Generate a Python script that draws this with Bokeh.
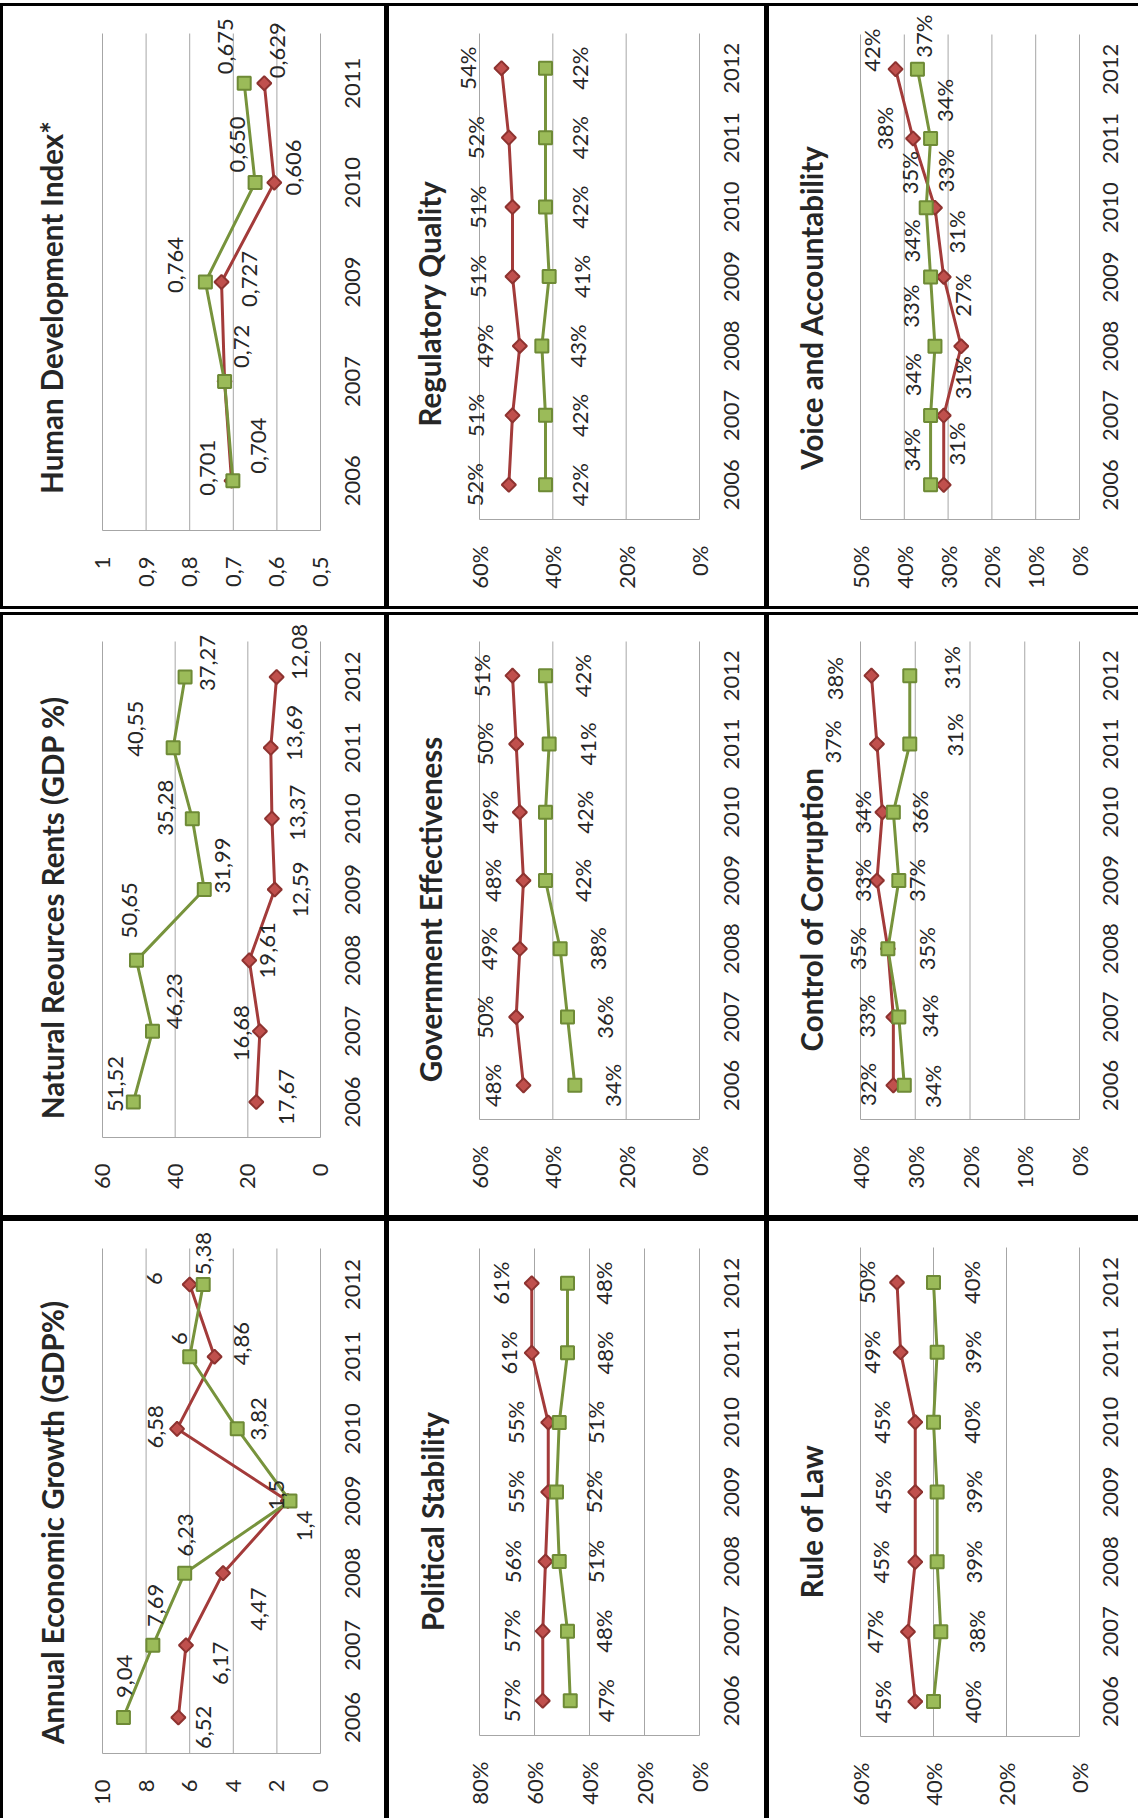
import math

from bokeh.core.properties import value
from bokeh.embed import file_html
from bokeh.layouts import column, row
from bokeh.models import (ColumnDataSource, FixedTicker, Label, LabelSet,
                          Range1d, Spacer)
from bokeh.plotting import figure
from bokeh.resources import INLINE

# ------------------------------------------------------------------ data
YEARS = ["2006", "2007", "2008", "2009", "2010", "2011", "2012"]

# Human Development Index (no 2008 observation)
hdi_years = ["2006", "2007", "2009", "2010", "2011"]
hdi_red = ["0,704", "0,72", "0,727", "0,606", "0,629"]
hdi_green = ["0,701", "0,72", "0,764", "0,650", "0,675"]
hdi_ticks = [0.5, 0.6, 0.7, 0.8, 0.9, 1.0]
hdi_tick_labels = ["0,5", "0,6", "0,7", "0,8", "0,9", "1"]

# Natural resources rents, % of GDP
nrr_red = ["17,67", "16,68", "19,61", "12,59", "13,37", "13,69", "12,08"]
nrr_green = ["51,52", "46,23", "50,65", "31,99", "35,28", "40,55", "37,27"]
nrr_ticks = [0, 20, 40, 60]
nrr_tick_labels = ["0", "20", "40", "60"]

# Annual economic growth, % of GDP
aeg_red = ["6,52", "6,17", "4,47", "1,5", "6,58", "4,86", "6"]
aeg_green = ["9,04", "7,69", "6,23", "1,4", "3,82", "6", "5,38"]
aeg_ticks = [0, 2, 4, 6, 8, 10]
aeg_tick_labels = ["0", "2", "4", "6", "8", "10"]

# Governance indicators, percentile rank
rq_red = [52, 51, 49, 51, 51, 52, 54]
rq_green = [42, 42, 43, 41, 42, 42, 42]
ge_red = [48, 50, 49, 48, 49, 50, 51]
ge_green = [34, 36, 38, 42, 42, 41, 42]
ps_red = [57, 57, 56, 55, 55, 61, 61]
ps_green = [47, 48, 51, 52, 51, 48, 48]
va_red = [31, 31, 27, 31, 33, 38, 42]
va_green = [34, 34, 33, 34, 35, 34, 37]
cc_red = [34, 34, 35, 37, 36, 37, 38]
cc_green = [32, 33, 35, 33, 34, 31, 31]
rl_red = [45, 47, 45, 45, 45, 49, 50]
rl_green = [40, 38, 39, 39, 40, 39, 40]

pct_ticks_60 = [0, 20, 40, 60]
pct_ticks_80 = [0, 20, 40, 60, 80]
pct_ticks_50 = [0, 10, 20, 30, 40, 50]
pct_ticks_40 = [0, 10, 20, 30, 40]

# ------------------------------------------------------------------ label placement (pixels: right, up)
hdi_red_off = ([27, 17, 28, 19, 13], [35, 35, 3, 15, 33])
hdi_green_off = ([-25, 0, -30, -18, -19], [13, 0, 17, 38, 37])
nrr_red_off = ([30, -18, 18, 26, 26, 24, 23], [5, -2, 10, 0, 6, 15, 25])
nrr_green_off = ([-18, 22, -7, 18, -27, -38, 22], [18, 30, 50, 24, 11, 19, 14])
aeg_red_off = ([25, 35, 35, -11, -22, 27, -35], [-10, -18, -36, 6, 2, 13, 6])
aeg_green_off = ([1, 3, 1, 15, 21, -10, 0], [41, 40, 38, -25, 10, 18, 31])
rq_red_off = ([-34, -37, -35, -35, -35, -33, -34], [0] * 7)
rq_green_off = ([34, 34, 36, 32, 34, 34, 34], [0] * 7)
ge_red_off = ([-31, -32, -31, -31, -30, -32, -31], [0] * 7)
ge_green_off = ([38, 37, 37, 37, 39, 38, 37], [0] * 7)
ps_red_off = ([-31, -31, -33, -33, -33, -23, -31], [0] * 7)
ps_green_off = ([35, 36, 36, 37, 36, 37, 36], [0] * 7)
va_red_off = ([13, 19, 1, 13, 11, -29, -24], [41, 38, 51, 45, 37, 10, 19])
va_green_off = ([-19, -18, -24, -19, -17, 14, 6], [35, 41, 40, 36, 35, 38, 33])
cc_red_off = ([39, 36, 39, 40, 37, -44, -37], [-1, 1, 0, 0, 0, 2, -3])
cc_green_off = ([-37, -32, -30, -36, -31, 45, 42], [1, 1, 0, 0, 0, 9, 8])
rl_red_off = ([-33, -33, -35, -33, -34, -29, -30], [0] * 7)
rl_green_off = ([39, 36, 36, 36, 38, 35, 38], [0] * 7)

# ------------------------------------------------------------------ styling
RED_LINE = "#A33B3A"
RED_FILL = "#C0504D"
RED_EDGE = "#8E3330"
GREEN_LINE = "#77933C"
GREEN_FILL = "#9BBB59"
GREEN_EDGE = "#6E8A36"
GRID = "#A6A6A6"
INK = "#262626"
FONT = "Lato"
LABEL_SIZE = "22px"
TITLE_SIZE = "29.5px"

# column widths, plot-area margins and year-label distance: (width, left, right, year_gap)
COL_L = (381, 99, 64, 32)
COL_M = (375, 90, 65, 32)
COL_R = (369, 91, 59, 31)


def num(s):
    return float(s.replace(",", "."))


def panel(title, years, series, ticks, tick_labels, col, height, top, bottom, title_pos):
    """One rotated chart: values run right-to-left, years bottom-to-top."""
    width, left, right, year_gap = col
    vmin, vmax = ticks[0], ticks[-1]
    n = len(years)
    fw = width - left - right          # plot-area width in px
    fh = height - top - bottom         # plot-area height in px
    kx = (vmax - vmin) / fw            # value units per px
    ky = n / fh                        # category units per px

    # the canvas is one big frame; the plot area sits inside it
    x_range = Range1d(vmax + left * kx, vmin - right * kx)
    y_range = Range1d(-0.5 - bottom * ky, n - 0.5 + top * ky)

    p = figure(width=width, height=height, x_range=x_range, y_range=y_range,
               y_axis_location=None, title=None, toolbar_location=None,
               output_backend="svg", min_border=0,
               min_border_left=0, min_border_right=0,
               min_border_top=0, min_border_bottom=0,
               background_fill_color="white", border_fill_color="white",
               outline_line_color=None)

    # value axis along the bottom edge of the plot area
    xa = p.xaxis[0]
    xa.fixed_location = -0.5
    xa.bounds = (vmin, vmax)
    xa.ticker = FixedTicker(ticks=ticks)
    xa.major_label_overrides = {t: lab for t, lab in zip(ticks, tick_labels)}
    xa.major_label_orientation = math.pi / 2
    xa.major_tick_line_color = None
    xa.minor_tick_line_color = None
    xa.major_tick_out = 0
    xa.major_tick_in = 0
    xa.axis_line_color = GRID
    xa.axis_line_width = 1
    xa.major_label_standoff = 26
    xa.major_label_text_font = FONT
    xa.major_label_text_font_size = LABEL_SIZE
    xa.major_label_text_color = INK

    p.xgrid.visible = False
    p.ygrid.visible = False

    # value gridlines, limited to the plot area
    p.segment(x0=ticks, y0=[-0.5] * len(ticks), x1=ticks, y1=[n - 0.5] * len(ticks),
              line_color=GRID, line_width=1)

    pos = list(range(n))

    # year labels along the right edge of the plot area
    ysrc = ColumnDataSource(dict(x=[vmin] * n, y=pos, text=years))
    p.add_layout(LabelSet(x="x", y="y", text="text", source=ysrc,
                          x_offset=year_gap, angle=math.pi / 2,
                          text_align="center", text_baseline="middle",
                          text_font=value(FONT), text_font_size=value(LABEL_SIZE),
                          text_color=INK))

    for vals, texts, offs, line_c, fill_c, edge_c, size, angle, hide in series:
        src = ColumnDataSource(dict(v=vals, y=pos))
        p.line("v", "y", source=src, line_color=line_c, line_width=3)
        p.scatter("v", "y", source=src, marker="square", size=size, angle=angle,
                  fill_color=fill_c, line_color=edge_c, line_width=2)
        keep = [i for i in range(n) if i not in hide]
        lsrc = ColumnDataSource(dict(
            v=[vals[i] for i in keep],
            y=[pos[i] for i in keep],
            text=[texts[i] for i in keep],
            dx=[offs[0][i] for i in keep],
            dy=[offs[1][i] for i in keep],
        ))
        p.add_layout(LabelSet(x="v", y="y", text="text", source=lsrc,
                              x_offset="dx", y_offset="dy", angle=math.pi / 2,
                              text_align="center", text_baseline="middle",
                              text_font=value(FONT), text_font_size=value(LABEL_SIZE),
                              text_color=INK))

    # chart title, centred on the panel to the left of the plot area
    tx, ty = title_pos
    p.add_layout(Label(x=vmax + (left - tx) * kx, y=(n - 0.5 + top * ky) - ty * ky,
                       text=title, angle=math.pi / 2,
                       text_align="center", text_baseline="middle",
                       text_font=FONT, text_font_style="bold",
                       text_font_size=TITLE_SIZE, text_color=INK))
    return p


def two(red_vals, red_texts, red_off, green_vals, green_texts, green_off, green_hide=()):
    return [
        (red_vals, red_texts, red_off, RED_LINE, RED_FILL, RED_EDGE, 10, math.pi / 4, ()),
        (green_vals, green_texts, green_off, GREEN_LINE, GREEN_FILL, GREEN_EDGE, 13, 0, green_hide),
    ]


def comma(vals):
    return [num(s) for s in vals], list(vals)


def pct(vals):
    return list(vals), [f"{v}%" for v in vals]


# ------------------------------------------------------------------ panels
hr_v, hr_t = comma(hdi_red)
hg_v, hg_t = comma(hdi_green)
p_hdi = panel("Human Development Index*", hdi_years,
              two(hr_v, hr_t, hdi_red_off, hg_v, hg_t, hdi_green_off, green_hide=(1,)),
              hdi_ticks, hdi_tick_labels, COL_L, 600, 27, 76, (48, 301))

nr_v, nr_t = comma(nrr_red)
ng_v, ng_t = comma(nrr_green)
p_nrr = panel("Natural Reources Rents (GDP %)", YEARS,
              two(nr_v, nr_t, nrr_red_off, ng_v, ng_t, nrr_green_off),
              nrr_ticks, nrr_tick_labels, COL_L, 600, 26, 78, (49, 292))

ar_v, ar_t = comma(aeg_red)
ag_v, ag_t = comma(aeg_green)
p_aeg = panel("Annual Economic Growth (GDP%)", YEARS,
              two(ar_v, ar_t, aeg_red_off, ag_v, ag_t, aeg_green_off),
              aeg_ticks, aeg_tick_labels, COL_L, 597, 27, 65, (49, 301))


def pct_panel(title, red, red_off, green, green_off, ticks, col, height, top, bottom, title_pos):
    rv, rt = pct(red)
    gv, gt = pct(green)
    return panel(title, YEARS, two(rv, rt, red_off, gv, gt, green_off),
                 ticks, [f"{t}%" for t in ticks], col, height, top, bottom, title_pos)


p_rq = pct_panel("Regulatory Quality", rq_red, rq_red_off, rq_green, rq_green_off,
                 pct_ticks_60, COL_M, 600, 27, 87, (40, 297))
p_ge = pct_panel("Government Effectiveness", ge_red, ge_red_off, ge_green, ge_green_off,
                 pct_ticks_60, COL_M, 600, 26, 96, (41, 294))
p_ps = pct_panel("Political Stability", ps_red, ps_red_off, ps_green, ps_green_off,
                 pct_ticks_80, COL_M, 597, 27, 83, (43, 300))
p_va = pct_panel("Voice and Accountability", va_red, va_red_off, va_green, va_green_off,
                 pct_ticks_50, COL_R, 600, 28, 87, (42, 301))
p_cc = pct_panel("Control of Corruption", cc_red, cc_red_off, cc_green, cc_green_off,
                 pct_ticks_40, COL_R, 600, 26, 96, (42, 294))
p_rl = pct_panel("Rule of Law", rl_red, rl_red_off, rl_green, rl_green_off,
                 pct_ticks_60, COL_R, 597, 26, 82, (42, 300))

# ------------------------------------------------------------------ framed page layout
TOTAL_W = 1138


def bar(w, h, color="black"):
    return Spacer(width=w, height=h, margin=0, styles={"background-color": color})


def panel_row(panels, h):
    a, b, c = panels
    return row(bar(3, h), a, bar(5, h), b, bar(5, h), c, spacing=0)


page = column(
    bar(TOTAL_W, 3, "white"),
    bar(TOTAL_W, 3),
    panel_row((p_hdi, p_rq, p_va), 600),
    bar(TOTAL_W, 3),
    bar(TOTAL_W, 3, "white"),
    bar(TOTAL_W, 3),
    panel_row((p_nrr, p_ge, p_cc), 600),
    bar(TOTAL_W, 6),
    panel_row((p_aeg, p_ps, p_rl), 597),
    spacing=0,
)

open("out.html", "w").write(file_html(page, INLINE))
